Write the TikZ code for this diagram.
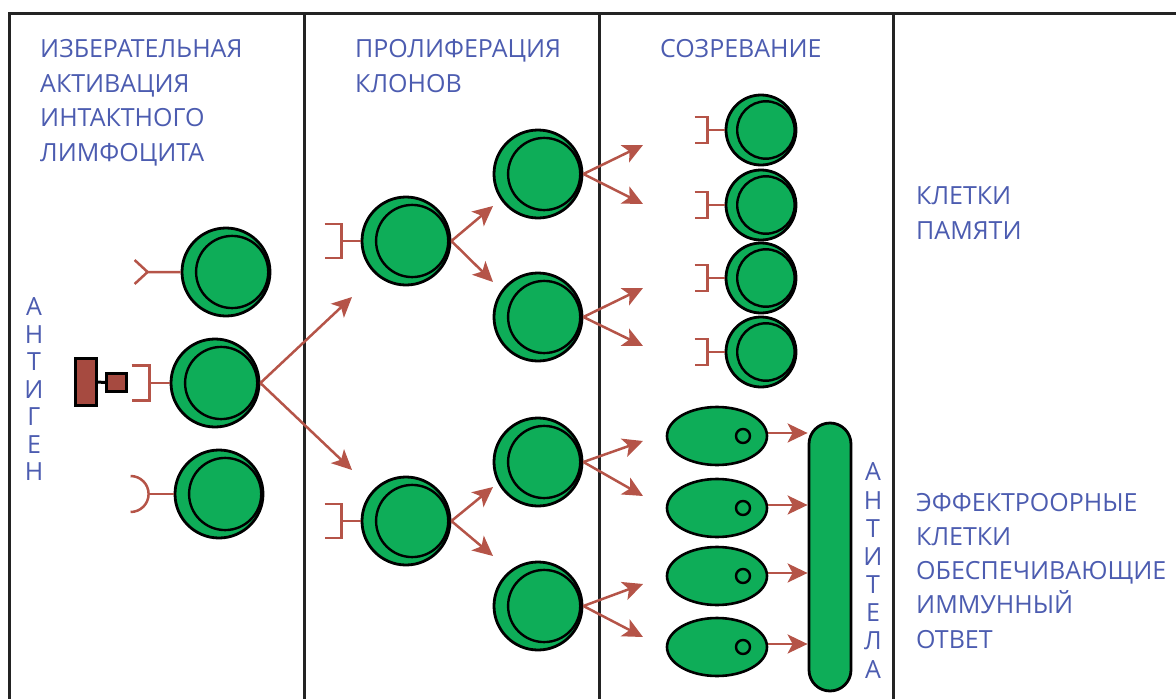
\documentclass[tikz,border=0pt]{standalone}
\usepackage{fontspec}
\setmainfont{Open Sans}
\usetikzlibrary{arrows.meta,shapes.geometric}

\definecolor{cellgreen}{RGB}{14,173,88}
\definecolor{recbrown}{RGB}{181,84,72}
\definecolor{agbrown}{RGB}{166,74,64}
\definecolor{labelblue}{RGB}{76,92,176}
\definecolor{framegray}{RGB}{35,35,35}

\tikzset{
  cellbody/.style={circle, draw=black, fill=cellgreen, line width=2.8pt, inner sep=0pt},
  cellrim/.style={draw=black, line width=2.4pt},
  rec/.style={draw=recbrown, line width=2.5pt},
  arr/.style={draw=recbrown, line width=2.5pt, -{Stealth[length=20pt,width=19pt,inset=5pt]}},
  plasma/.style={ellipse, draw=black, fill=cellgreen, line width=2.6pt,
    minimum width=100pt, minimum height=58pt, inner sep=0pt},
  rod/.style={rectangle, rounded corners=21pt, draw=black, fill=cellgreen, line width=2.8pt,
    minimum width=42pt, minimum height=268pt, inner sep=0pt},
  agbox/.style={rectangle, draw=black, fill=agbrown, line width=3pt, inner sep=0pt},
  frameline/.style={draw=framegray, line width=3pt},
  heading/.style={anchor=base west, inner sep=0pt, text=labelblue,
    font=\fontsize{25}{30}\selectfont},
  vlet/.style={anchor=center, inner sep=0pt, text=labelblue,
    font=\fontsize{25}{30}\selectfont}
}

% lymphocyte: green body with an inner ring shifted to the right
\newcommand\lymph[4]{%
  \node[cellbody, minimum size=2*#4] (#1) at (#2,#3) {};
  \draw[cellrim] ([xshift=0.14*#4]#1.center) circle[radius=0.82*#4];
}
% bracket-shaped receptor on the left side of a cell
\newcommand\bracketrec[4]{%
  \draw[rec] (#1.west) -- ++(-#2,0) ++(-#3,-#4) -- ++(#3,0) -- ++(0,2*#4) -- ++(-#3,0);
}

\begin{document}
\begin{tikzpicture}[x=1pt,y=-1pt]
\useasboundingbox (0,0) rectangle (1176,699);

% frame and column dividers
\draw[frameline] (9,699) -- (9,13) -- (1176,13);
\foreach \xd in {304.5,599,893}
  {\draw[frameline] (\xd,13) -- (\xd,699);}

% column headings
\foreach \t [count=\i] in {ИЗБЕРАТЕЛЬНАЯ,АКТИВАЦИЯ,ИНТАКТНОГО,ЛИМФОЦИТА}
  {\node[heading] (hsel\i) at (40,57.5+34.5*\i-34.5) {\t};}
\foreach \t [count=\i] in {ПРОЛИФЕРАЦИЯ,КЛОНОВ}
  {\node[heading] (hpro\i) at (355,57.5+34.5*\i-34.5) {\t};}
\node[heading] (hmat) at (660,57.5) {СОЗРЕВАНИЕ};
\foreach \t [count=\i] in {КЛЕТКИ,ПАМЯТИ}
  {\node[heading] (hmem\i) at (916,204.5+34.5*\i-34.5) {\t};}
\foreach \t [count=\i] in {ЭФФЕКТРООРНЫЕ,КЛЕТКИ,ОБЕСПЕЧИВАЮЩИЕ,ИММУННЫЙ,ОТВЕТ}
  {\node[heading] (heff\i) at (916,511+34.3*\i-34.3) {\t};}

% vertical labels
\foreach \ch [count=\i] in {А,Н,Т,И,Г,Е,Н}
  {\node[vlet] (vag\i) at (34,307+27.5*\i-27.5) {\ch};}
\foreach \ch [count=\i] in {А,Н,Т,И,Т,Е,Л,А}
  {\node[vlet] (vab\i) at (873,472+28.15*\i-28.15) {\ch};}

% antigen
\node[agbox, minimum width=21pt, minimum height=47pt] (agLarge) at (85.5,382) {};
\node[agbox, minimum width=20pt, minimum height=18pt] (agSmall) at (116.5,382.5) {};
\draw[line width=3pt] (agLarge.east) -- (agSmall.west);

% naive lymphocytes with different receptors
\lymph{naiveY}{226}{272}{44}
\lymph{naiveB}{215}{383}{44}
\lymph{naiveC}{219}{494}{44}
\draw[rec] (naiveY.west) -- ++(-33,0) coordinate (forkY) -- ++(-13,-12)
           (forkY) -- ++(-13,12);
\bracketrec{naiveB}{20}{18}{17.5}
\draw[rec] (naiveC.west) -- ++(-25,0) coordinate (cupC);
\draw[rec] (cupC) arc[start angle=0, end angle=-90, radius=18]
           (cupC) arc[start angle=0, end angle=90, radius=18];

% clone proliferation
\lymph{cloneA}{406}{241}{44}
\lymph{cloneB}{406}{521}{44}
\bracketrec{cloneA}{19}{17}{17}
\bracketrec{cloneB}{19}{17}{17}
\coordinate (tipA) at (352,297);
\coordinate (tipB) at (352,470);
\draw[arr] (naiveB.east) -- (tipA);
\draw[arr] (naiveB.east) -- (tipB);

\lymph{divA}{538}{174}{44}
\lymph{divB}{538}{317}{44}
\lymph{divC}{538}{462}{44}
\lymph{divD}{538}{606}{44}
\coordinate (tA1) at (493,206);
\coordinate (tA2) at (493,282);
\coordinate (tB1) at (493,487);
\coordinate (tB2) at (493,556);
\draw[arr] (cloneA.east) -- (tA1);
\draw[arr] (cloneA.east) -- (tA2);
\draw[arr] (cloneB.east) -- (tB1);
\draw[arr] (cloneB.east) -- (tB2);

% maturation arrows
\coordinate (mA1) at (643,145);
\coordinate (mA2) at (643,204);
\coordinate (mB1) at (643,288);
\coordinate (mB2) at (643,346);
\coordinate (mC1) at (643,441);
\coordinate (mC2) at (643,496);
\coordinate (mD1) at (643,584);
\coordinate (mD2) at (643,637);
\draw[arr] (divA.east) -- (mA1);
\draw[arr] (divA.east) -- (mA2);
\draw[arr] (divB.east) -- (mB1);
\draw[arr] (divB.east) -- (mB2);
\draw[arr] (divC.east) -- (mC1);
\draw[arr] (divC.east) -- (mC2);
\draw[arr] (divD.east) -- (mD1);
\draw[arr] (divD.east) -- (mD2);

% memory cells
\lymph{memA}{761}{130}{35}
\lymph{memB}{761}{205}{35}
\lymph{memC}{761}{278}{35}
\lymph{memD}{761}{352}{35}
\foreach \m in {memA,memB,memC,memD}
  {\bracketrec{\m}{17}{13}{13}}

% plasma cells and antibodies
\node[rod] (antibody) at (830,557) {};
\foreach \p/\yp in {plA/436,plB/508,plC/576,plD/647}{
  \node[plasma] (\p) at (717,\yp) {};
  \draw[cellrim, fill=cellgreen] ([xshift=26pt]\p.center) circle[radius=7];
  \draw[arr] ([yshift=3pt]\p.east) -- ([yshift=3pt]\p.east -| antibody.west);
}
\end{tikzpicture}
\end{document}
